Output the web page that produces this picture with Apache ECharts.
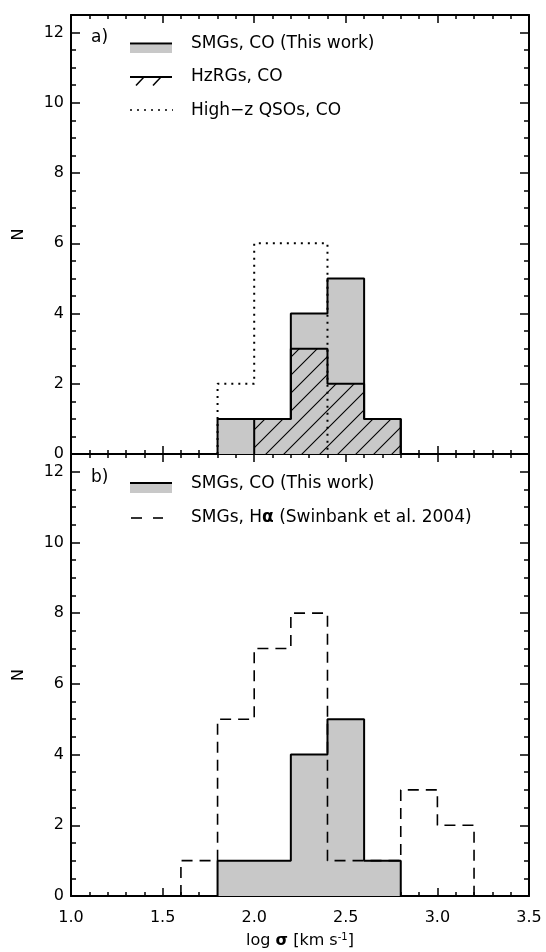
<!DOCTYPE html>
<html>
<head>
<meta charset="utf-8">
<script src="https://cdn.jsdelivr.net/npm/echarts@6/dist/echarts.min.js"></script>
<style>
html,body{margin:0;padding:0;background:#fff;}
#main{width:546px;height:952px;}
</style>
</head>
<body>
<div id="main"></div>
<script>
// ---- Data ----
// Panel a
const smgEdges  = [1.8, 2.0, 2.2, 2.4, 2.6, 2.8];
const smgCounts = [1, 1, 4, 5, 1];
const hzrgEdges  = [2.0, 2.2, 2.4, 2.6, 2.8];
const hzrgCounts = [1, 3, 2, 1];
const qsoEdges  = [1.8, 2.0, 2.2, 2.4];
const qsoCounts = [2, 6, 6];
// Panel b
const haEdges  = [1.6, 1.8, 2.0, 2.2, 2.4, 2.6, 2.8, 3.0, 3.2];
const haCounts = [1, 5, 7, 8, 1, 1, 3, 2];
// Axis ticks
const xTickLabels = ['1.0', '1.5', '2.0', '2.5', '3.0', '3.5'];
const yTickLabels = ['0', '2', '4', '6', '8', '10', '12'];

// Build histogram outline points from bin edges and counts
function stepPoints(edges, counts) {
  const pts = [[edges[0], 0]];
  for (let i = 0; i < counts.length; i++) {
    pts.push([edges[i], counts[i]]);
    pts.push([edges[i + 1], counts[i]]);
  }
  pts.push([edges[edges.length - 1], 0]);
  return pts;
}

// Hatch pattern
const pc = document.createElement('canvas');
pc.width = 18; pc.height = 18;
const g = pc.getContext('2d');
g.strokeStyle = '#000'; g.lineWidth = 1.1;
g.beginPath();
g.moveTo(0, 18); g.lineTo(18, 0);
g.moveTo(-9, 9); g.lineTo(9, -9);
g.moveTo(9, 27); g.lineTo(27, 9);
g.stroke();

const FONT = 'DejaVu Sans';
const GREY = '#c8c8c8';
const TICKFS = 16, LEGFS = 17;

const L = 71, W = 458;
const grids = [
  {left: L, top: 15, width: W, height: 439},
  {left: L, top: 454, width: W, height: 442}
];

function xAx(gi, pos, labels) {
  return {
    type: 'value', gridIndex: gi, position: pos, min: 1.0, max: 3.5, interval: 0.5,
    axisLine: {show: true, onZero: false, lineStyle: {color: '#000', width: 2}},
    axisTick: {show: true, inside: true, length: 8, lineStyle: {color: '#000', width: 1.5}},
    minorTick: {show: true, splitNumber: 5, length: 4, lineStyle: {color: '#000', width: 1.5}},
    splitLine: {show: false}, minorSplitLine: {show: false},
    axisLabel: {show: labels, margin: 14, color: '#000', fontSize: TICKFS, fontFamily: FONT,
      formatter: v => { const s = v.toFixed(1); return xTickLabels.indexOf(s) >= 0 ? s : ''; }}
  };
}
function yAx(gi, pos, labels) {
  return {
    type: 'value', gridIndex: gi, position: pos, min: 0, max: 12.5, interval: 2,
    axisLine: {show: true, onZero: false, lineStyle: {color: '#000', width: 2}},
    axisTick: {show: true, inside: true, length: 9, lineStyle: {color: '#000', width: 1.5}},
    minorTick: {show: true, splitNumber: 4, length: 5, lineStyle: {color: '#000', width: 1.5}},
    splitLine: {show: false}, minorSplitLine: {show: false},
    axisLabel: {show: labels, margin: 7, color: '#000', fontSize: TICKFS, fontFamily: FONT,
      formatter: v => { const s = String(v); return yTickLabels.indexOf(s) >= 0 ? s : ''; }},
    name: labels ? 'N' : '', nameLocation: 'middle', nameGap: 44, nameRotate: 90,
    nameTextStyle: {color: '#000', fontSize: TICKFS, fontFamily: FONT}
  };
}

const xAxes = [xAx(0, 'bottom', false), xAx(0, 'top', false), xAx(1, 'bottom', true), xAx(1, 'top', false)];
xAxes[2].name = 'log {s|σ} [km s{sup|-1}]';
xAxes[2].nameLocation = 'middle';
xAxes[2].nameGap = 36;
xAxes[2].nameTextStyle = {color: '#000', fontSize: TICKFS, fontFamily: FONT,
  rich: {s: {fontSize: TICKFS, fontWeight: 'bold', fontFamily: FONT, color: '#000'},
         sup: {fontSize: 10, verticalAlign: 'top', padding: [0, 0, 8, 0], fontFamily: FONT, color: '#000'}}};
const yAxes = [yAx(0, 'left', true), yAx(0, 'right', false), yAx(1, 'left', true), yAx(1, 'right', false)];

const blackLine = (w, type) => ({color: '#000', width: w, type: type || 'solid'});

const series = [
  {type: 'line', xAxisIndex: 0, yAxisIndex: 0, data: stepPoints(smgEdges, smgCounts), showSymbol: false, silent: true,
   lineStyle: blackLine(2), areaStyle: {color: GREY, opacity: 1}, z: 2},
  {type: 'line', xAxisIndex: 0, yAxisIndex: 0, data: stepPoints(hzrgEdges, hzrgCounts), showSymbol: false, silent: true,
   lineStyle: blackLine(2), areaStyle: {color: {image: pc, repeat: 'repeat'}, opacity: 1}, z: 3},
  {type: 'line', xAxisIndex: 0, yAxisIndex: 0, data: stepPoints(qsoEdges, qsoCounts), showSymbol: false, silent: true,
   lineStyle: {color: '#000', width: 2, type: [2, 5]}, z: 4},
  {type: 'line', xAxisIndex: 2, yAxisIndex: 2, data: stepPoints(smgEdges, smgCounts), showSymbol: false, silent: true,
   lineStyle: blackLine(2), areaStyle: {color: GREY, opacity: 1}, z: 2},
  {type: 'line', xAxisIndex: 2, yAxisIndex: 2, data: stepPoints(haEdges, haCounts), showSymbol: false, silent: true,
   lineStyle: {color: '#000', width: 1.6, type: [11, 7]}, z: 4}
];

const LEGFONT = LEGFS + 'px "DejaVu Sans"';
const txt = (x, y, text, extra) => ({type: 'text', x: x, y: y, silent: true,
  style: Object.assign({text: text, fill: '#000', font: LEGFONT, verticalAlign: 'middle', align: 'left'}, extra || {})});
const ln = (x1, y1, x2, y2, w, dash) => ({type: 'line', silent: true, shape: {x1, y1, x2, y2},
  style: {stroke: '#000', lineWidth: w, lineDash: dash || null}});

const graphic = [
  // Panel a legend
  txt(91, 38, 'a)'),
  {type: 'rect', silent: true, shape: {x: 130, y: 44.5, width: 42, height: 8.5}, style: {fill: GREY}},
  ln(130, 43.5, 172, 43.5, 2),
  txt(191, 44, 'SMGs, CO (This work)'),
  ln(130, 77, 172, 77, 2),
  ln(144, 77, 136, 85.5, 1.5),
  ln(161, 77, 153, 85.5, 1.5),
  txt(191, 77, 'HzRGs, CO'),
  ln(130, 110, 173, 110, 1.5, [2, 5]),
  txt(191, 111, 'High\u2212z QSOs, CO'),
  // Panel b legend
  txt(91, 478, 'b)'),
  {type: 'rect', silent: true, shape: {x: 130, y: 484, width: 42, height: 9}, style: {fill: GREY}},
  ln(130, 483, 172, 483, 2),
  txt(191, 484, 'SMGs, CO (This work)'),
  ln(131, 518, 163, 518, 1.6, [11, 11]),
  {type: 'text', x: 191, y: 518, silent: true,
   style: {text: 'SMGs, H{a|α} (Swinbank et al. 2004)', fill: '#000', font: LEGFONT,
     verticalAlign: 'middle', align: 'left',
     rich: {a: {fontWeight: 'bold', fontSize: LEGFS, fontFamily: FONT, fill: '#000'}}}}
];

const chart = echarts.init(document.getElementById('main'), null, {renderer: 'canvas'});
chart.setOption({
  backgroundColor: '#fff',
  animation: false,
  grid: grids,
  xAxis: xAxes,
  yAxis: yAxes,
  series: series,
  graphic: graphic
});
</script>
</body>
</html>
